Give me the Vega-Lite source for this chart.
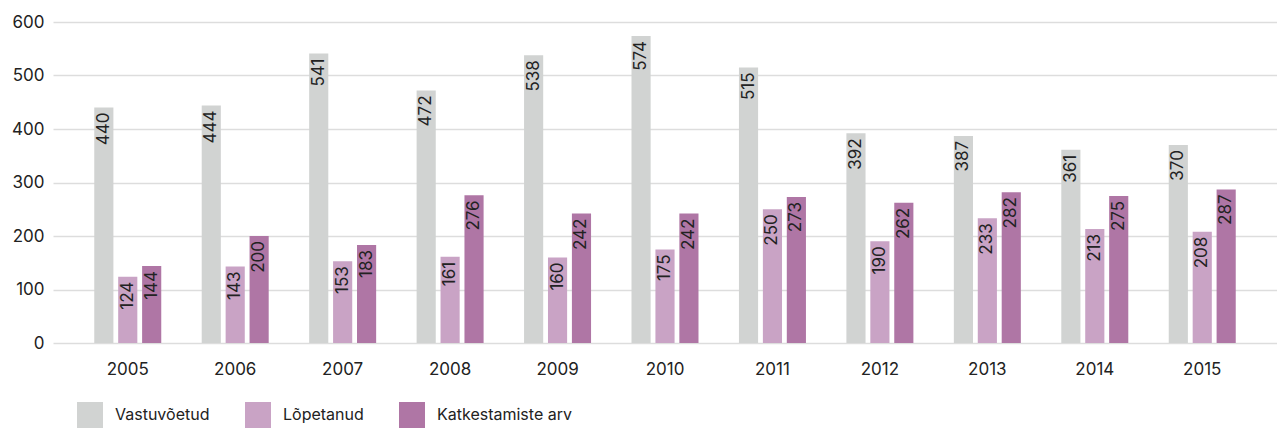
{
  "$schema": "https://vega.github.io/schema/vega-lite/v6.json",
  "width": 1224,
  "height": 321,
  "autosize": {"type": "none"},
  "padding": {"left": 53, "top": 22, "right": 0, "bottom": 86},
  "config": {
    "view": {"stroke": null},
    "font": "Inter",
    "axis": {"labelFont": "Inter", "labelFontSize": 17, "labelColor": "#222222"},
    "legend": {"labelFont": "Inter", "labelFontSize": 16, "labelColor": "#222222"}
  },
  "data": {
    "values": [
      {"year": "2005", "series": "Vastuvõetud", "value": 440},
      {"year": "2005", "series": "Lõpetanud", "value": 124},
      {"year": "2005", "series": "Katkestamiste arv", "value": 144},
      {"year": "2006", "series": "Vastuvõetud", "value": 444},
      {"year": "2006", "series": "Lõpetanud", "value": 143},
      {"year": "2006", "series": "Katkestamiste arv", "value": 200},
      {"year": "2007", "series": "Vastuvõetud", "value": 541},
      {"year": "2007", "series": "Lõpetanud", "value": 153},
      {"year": "2007", "series": "Katkestamiste arv", "value": 183},
      {"year": "2008", "series": "Vastuvõetud", "value": 472},
      {"year": "2008", "series": "Lõpetanud", "value": 161},
      {"year": "2008", "series": "Katkestamiste arv", "value": 276},
      {"year": "2009", "series": "Vastuvõetud", "value": 538},
      {"year": "2009", "series": "Lõpetanud", "value": 160},
      {"year": "2009", "series": "Katkestamiste arv", "value": 242},
      {"year": "2010", "series": "Vastuvõetud", "value": 574},
      {"year": "2010", "series": "Lõpetanud", "value": 175},
      {"year": "2010", "series": "Katkestamiste arv", "value": 242},
      {"year": "2011", "series": "Vastuvõetud", "value": 515},
      {"year": "2011", "series": "Lõpetanud", "value": 250},
      {"year": "2011", "series": "Katkestamiste arv", "value": 273},
      {"year": "2012", "series": "Vastuvõetud", "value": 392},
      {"year": "2012", "series": "Lõpetanud", "value": 190},
      {"year": "2012", "series": "Katkestamiste arv", "value": 262},
      {"year": "2013", "series": "Vastuvõetud", "value": 387},
      {"year": "2013", "series": "Lõpetanud", "value": 233},
      {"year": "2013", "series": "Katkestamiste arv", "value": 282},
      {"year": "2014", "series": "Vastuvõetud", "value": 361},
      {"year": "2014", "series": "Lõpetanud", "value": 213},
      {"year": "2014", "series": "Katkestamiste arv", "value": 275},
      {"year": "2015", "series": "Vastuvõetud", "value": 370},
      {"year": "2015", "series": "Lõpetanud", "value": 208},
      {"year": "2015", "series": "Katkestamiste arv", "value": 287}
    ]
  },
  "encoding": {
    "x": {
      "field": "year", "type": "nominal",
      "scale": {"paddingInner": 0.3765, "paddingOuter": 0.384},
      "axis": {"title": null, "labelAngle": 0, "domain": false, "ticks": false, "labelPadding": 18, "labelBaseline": "top"}
    },
    "xOffset": {
      "field": "series", "type": "nominal",
      "sort": ["Vastuvõetud", "Lõpetanud", "Katkestamiste arv"],
      "scale": {"paddingInner": 0.2, "paddingOuter": 0}
    },
    "y": {
      "field": "value", "type": "quantitative",
      "scale": {"domain": [0, 600], "nice": false},
      "axis": {"title": null, "values": [0, 100, 200, 300, 400, 500, 600], "domain": false, "ticks": false, "labelPadding": 9, "gridColor": "#dddddd", "gridWidth": 1.3}
    }
  },
  "layer": [
    {
      "mark": {"type": "bar"},
      "encoding": {
        "color": {
          "field": "series", "type": "nominal",
          "scale": {"domain": ["Vastuvõetud", "Lõpetanud", "Katkestamiste arv"], "range": ["#d1d3d2", "#c9a3c5", "#af76a5"]},
          "legend": {
            "title": null, "orient": "none", "direction": "horizontal",
            "legendX": 24, "legendY": 380,
            "symbolType": "square", "symbolSize": 676, "symbolStrokeWidth": 0,
            "labelOffset": 12, "columnPadding": 35, "padding": 0
          }
        }
      }
    },
    {
      "mark": {"type": "text", "angle": 270, "align": "right", "baseline": "middle", "dx": -5, "fontSize": 17, "color": "#222222"},
      "encoding": {
        "text": {"field": "value", "type": "quantitative"}
      }
    }
  ]
}
